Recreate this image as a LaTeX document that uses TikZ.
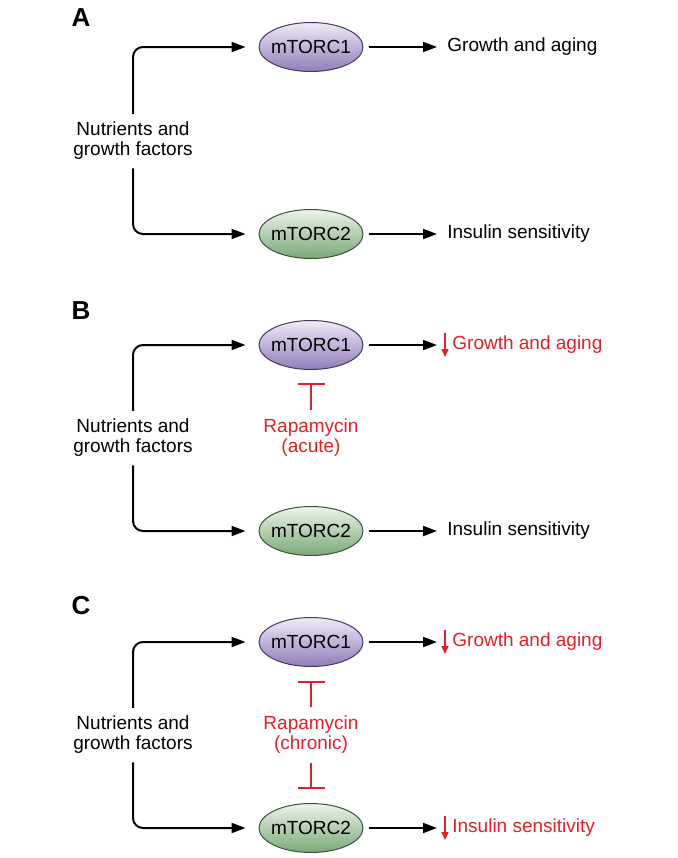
\documentclass[tikz,border=0pt]{standalone}
\usepackage{fontspec}
\setmainfont{Liberation Sans}
\usetikzlibrary{arrows.meta,shapes.geometric,shadings}
\definecolor{torcred}{RGB}{228,32,38}
\definecolor{purpletop}{RGB}{240,234,246}
\definecolor{purplebot}{RGB}{146,124,186}
\definecolor{purpleline}{RGB}{70,55,100}
\definecolor{greentop}{RGB}{236,245,232}
\definecolor{greenbot}{RGB}{122,168,120}
\definecolor{greenline}{RGB}{55,85,55}
\begin{document}
\begin{tikzpicture}[x=0.5pt,y=-0.5pt,
  every node/.style={font=\fontsize{9.5}{10}\selectfont},
  panel/.style={font=\fontsize{13}{14}\selectfont\bfseries},
  torc1/.style={ellipse,draw=purpleline,line width=0.5pt,top color=purpletop,bottom color=purplebot,minimum width=52pt,minimum height=24.5pt,inner xsep=-2pt,inner ysep=0pt},
  torc2/.style={ellipse,draw=greenline,line width=0.5pt,top color=greentop,bottom color=greenbot,minimum width=52pt,minimum height=24.5pt,inner xsep=-2pt,inner ysep=0pt},
  source/.style={align=center,inner sep=4pt},
  effect/.style={anchor=west,inner sep=0pt},
  drug/.style={align=center,text=torcred,inner sep=3pt},
  arr/.style={line width=1pt,-{Triangle[length=7pt,width=5pt]}},
  feed/.style={arr,rounded corners=5pt,shorten >=6.5pt},
  inh/.style={draw=torcred,line width=0.8pt,-{Bar[width=13.5pt,line width=0.8pt]}},
  down/.style={draw=torcred,line width=0.7pt,-{Triangle[length=4pt,width=3.5pt]}}]
\useasboundingbox (0,0) rectangle (677,858);
% A
\node [panel] (la) at (81,18) {A};
\node [torc1] (ca1) at (311,47) {mTORC1};
\node [torc2] (ca2) at (311,234) {mTORC2};
\node [source] (na) at (133,141) {Nutrients and\\growth factors};
\node [effect] (oa1) at (447,47) {Growth and aging};
\node [effect] (oa2) at (447,234) {Insulin sensitivity};
\draw [feed] (na.north) |- (ca1);
\draw [feed] (na.south) |- (ca2);
\draw [arr,shorten <=2.5pt,shorten >=5pt] (ca1) -- (oa1);
\draw [arr,shorten <=2.5pt,shorten >=5pt] (ca2) -- (oa2);
% B
\node [panel] (lb) at (81,311) {B};
\node [torc1] (cb1) at (311,345) {mTORC1};
\node [torc2] (cb2) at (311,531) {mTORC2};
\node [source] (nb) at (133,438) {Nutrients and\\growth factors};
\node [effect,text=torcred] (ob1) at (447,345) {\hspace{2.5pt}Growth and aging};
\node [effect] (ob2) at (447,531) {Insulin sensitivity};
\node [drug] (rb) at (311,438) {Rapamycin\\(acute)};
\draw [feed] (nb.north) |- (cb1);
\draw [feed] (nb.south) |- (cb2);
\draw [arr,shorten <=2.5pt,shorten >=5pt] (cb1) -- (ob1);
\draw [arr,shorten <=2.5pt,shorten >=5pt] (cb2) -- (ob2);
\draw [down] ([xshift=-1pt,yshift=6pt]ob1.west) -- ([xshift=-1pt,yshift=-6pt]ob1.west);
\draw [inh,shorten <=1.5pt,shorten >=6.5pt] (rb.north) -- (cb1.south);
% C
\node [panel] (lc) at (81,606) {C};
\node [torc1] (cc1) at (311,642) {mTORC1};
\node [torc2] (cc2) at (311,828) {mTORC2};
\node [source] (nc) at (133,735) {Nutrients and\\growth factors};
\node [effect,text=torcred] (oc1) at (447,642) {\hspace{2.5pt}Growth and aging};
\node [effect,text=torcred] (oc2) at (447,828) {\hspace{2.5pt}Insulin sensitivity};
\node [drug] (rc) at (311,735) {Rapamycin\\(chronic)};
\draw [feed] (nc.north) |- (cc1);
\draw [feed] (nc.south) |- (cc2);
\draw [arr,shorten <=2.5pt,shorten >=5pt] (cc1) -- (oc1);
\draw [arr,shorten <=2.5pt,shorten >=5pt] (cc2) -- (oc2);
\draw [down] ([xshift=-1pt,yshift=6pt]oc1.west) -- ([xshift=-1pt,yshift=-6pt]oc1.west);
\draw [down] ([xshift=-1pt,yshift=6pt]oc2.west) -- ([xshift=-1pt,yshift=-6pt]oc2.west);
\draw [inh,shorten <=1.5pt,shorten >=7pt] (rc.north) -- (cc1.south);
\draw [inh,shorten <=1.5pt,shorten >=7pt] (rc.south) -- (cc2.north);
\end{tikzpicture}
\end{document}
